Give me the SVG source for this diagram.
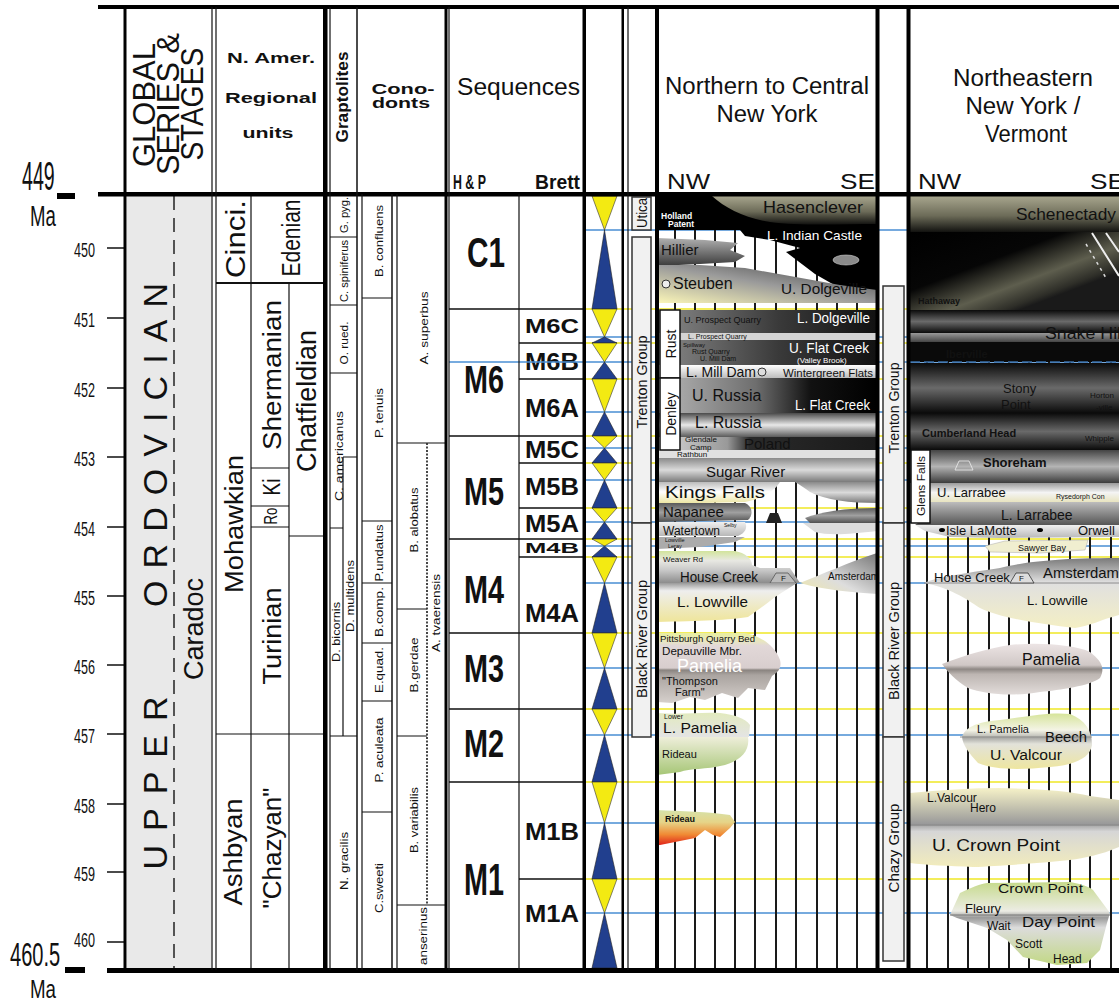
<svg xmlns="http://www.w3.org/2000/svg" width="1119" height="1004" viewBox="0 0 1119 1004">
<style>
text{font-family:"Liberation Sans",Arial,sans-serif;fill:#111}
.b{font-weight:bold}
.k{stroke:#111;fill:none}
.th{stroke:#111;stroke-width:1.2;fill:none}
.bl{stroke:#4a8fd4;stroke-width:1.3}
.yl{stroke:#efe826;stroke-width:1.6}
.vl{stroke:#1a1a1a;stroke-width:2}
.ty{fill:#f3ea12;stroke:#333;stroke-width:.6}
.tb{fill:#213f8e;stroke:#222;stroke-width:.6}
.box{fill:#f1f1f1;stroke:#333;stroke-width:1.5}
.wb{fill:#fff;stroke:#111;stroke-width:1.5}
.sm{font-size:11px}
.wt{fill:#fff}
</style>
<defs>
<linearGradient id="gOl" x1="0" y1="0" x2="0" y2="1"><stop offset="0" stop-color="#a8a68e"/><stop offset=".55" stop-color="#6c6b58"/><stop offset="1" stop-color="#121210"/></linearGradient>
<linearGradient id="gHil" x1="0" y1="0" x2="0" y2="1"><stop offset="0" stop-color="#b0b0b0"/><stop offset="1" stop-color="#3a3a3a"/></linearGradient>
<linearGradient id="gSteu" x1="1" y1="0" x2="0" y2="1"><stop offset="0" stop-color="#3a3a3a"/><stop offset=".5" stop-color="#9a9a9a"/><stop offset="1" stop-color="#fbf6b8"/></linearGradient>
<linearGradient id="gDkH" x1="0" y1="0" x2="1" y2="0"><stop offset="0" stop-color="#8a8a8a"/><stop offset=".55" stop-color="#3a3a3a"/><stop offset="1" stop-color="#111"/></linearGradient>
<linearGradient id="gDk" x1="0" y1="0" x2="0" y2="1"><stop offset="0" stop-color="#0a0a0a"/><stop offset=".5" stop-color="#6a6a6a"/><stop offset="1" stop-color="#0a0a0a"/></linearGradient>
<linearGradient id="gLt" x1="0" y1="0" x2="0" y2="1"><stop offset="0" stop-color="#fff"/><stop offset="1" stop-color="#bdbdbd"/></linearGradient>
<linearGradient id="gE" x1="0" y1="0" x2="1" y2="0"><stop offset="0" stop-color="#b8b8b8"/><stop offset=".45" stop-color="#6e6e6e"/><stop offset=".7" stop-color="#111"/><stop offset="1" stop-color="#000"/></linearGradient>
<linearGradient id="gGr" x1="0" y1="0" x2="0" y2="1"><stop offset="0" stop-color="#4a4a4a"/><stop offset=".5" stop-color="#e8e8e8"/><stop offset="1" stop-color="#5a5a5a"/></linearGradient>
<linearGradient id="gG" x1="0" y1="0" x2="1" y2="0"><stop offset="0" stop-color="#d8d8d8"/><stop offset=".32" stop-color="#999"/><stop offset=".42" stop-color="#2a2a2a"/><stop offset="1" stop-color="#1a1a1a"/></linearGradient>
<linearGradient id="gKF" x1="0" y1="0" x2="0" y2="1"><stop offset="0" stop-color="#bbb"/><stop offset=".45" stop-color="#fff"/><stop offset="1" stop-color="#ebe49c"/></linearGradient>
<linearGradient id="gKR" x1="0" y1="0" x2="0" y2="1"><stop offset="0" stop-color="#8a8a8a"/><stop offset=".5" stop-color="#dadada"/><stop offset="1" stop-color="#7a7a7a"/></linearGradient>
<linearGradient id="gNap" x1="0" y1="0" x2="0" y2="1"><stop offset="0" stop-color="#5a5a5a"/><stop offset=".5" stop-color="#a0a0a0"/><stop offset="1" stop-color="#505050"/></linearGradient>
<linearGradient id="gWat" x1="0" y1="0" x2="0" y2="1"><stop offset="0" stop-color="#f0f0f0"/><stop offset="1" stop-color="#b8b8b8"/></linearGradient>
<linearGradient id="gHC" x1="0" y1="0" x2="0" y2="1"><stop offset="0" stop-color="#d2e49c"/><stop offset=".3" stop-color="#e8e8e2"/><stop offset=".6" stop-color="#c8c8c8"/><stop offset="1" stop-color="#8c8c8c"/></linearGradient>
<linearGradient id="gAm" x1="1" y1="0" x2="0" y2="1"><stop offset="0" stop-color="#777"/><stop offset=".6" stop-color="#ddd"/><stop offset="1" stop-color="#f0e8a8"/></linearGradient>
<linearGradient id="gLow" x1="0" y1="0" x2="0" y2="1"><stop offset="0" stop-color="#9a9a9a"/><stop offset=".2" stop-color="#eee"/><stop offset="1" stop-color="#efe59a"/></linearGradient>
<linearGradient id="gPam" x1="0" y1="0" x2="0" y2="1"><stop offset="0" stop-color="#e9eea0"/><stop offset=".12" stop-color="#e8e6c0"/><stop offset=".18" stop-color="#e2d8d8"/><stop offset=".5" stop-color="#d8cece"/><stop offset=".53" stop-color="#8a8480"/><stop offset=".6" stop-color="#aaa4a0"/><stop offset="1" stop-color="#d6d0cc"/></linearGradient>
<linearGradient id="gLP" x1="0" y1="0" x2="0" y2="1"><stop offset="0" stop-color="#e2eabe"/><stop offset="1" stop-color="#e4e4e4"/></linearGradient>
<linearGradient id="gRid" x1="0" y1="0" x2="0" y2="1"><stop offset="0" stop-color="#eeeeda"/><stop offset="1" stop-color="#a6c676"/></linearGradient>
<linearGradient id="gRid2" x1="0" y1="0" x2="0" y2="1"><stop offset="0" stop-color="#d6e2aa"/><stop offset=".35" stop-color="#e6d488"/><stop offset=".7" stop-color="#f08a34"/><stop offset="1" stop-color="#e0241a"/></linearGradient>
<linearGradient id="gNEL" x1="0" y1="0" x2="0" y2="1"><stop offset="0" stop-color="#7a7a7a"/><stop offset=".35" stop-color="#e0e0e0"/><stop offset="1" stop-color="#f4efc4"/></linearGradient>
<linearGradient id="gPN" x1="0" y1="0" x2="0" y2="1"><stop offset="0" stop-color="#ece4e4"/><stop offset=".42" stop-color="#d0c8c6"/><stop offset=".5" stop-color="#8e8884"/><stop offset=".6" stop-color="#bdb6b2"/><stop offset="1" stop-color="#e2dcda"/></linearGradient>
<linearGradient id="gVal" x1="0" y1="0" x2="0" y2="1"><stop offset="0" stop-color="#d6e49a"/><stop offset=".3" stop-color="#f4f4e6"/><stop offset=".45" stop-color="#aeaeaa"/><stop offset=".55" stop-color="#e2e2da"/><stop offset="1" stop-color="#eee6a0"/></linearGradient>
<linearGradient id="gCP" x1="0" y1="0" x2="0" y2="1"><stop offset="0" stop-color="#f6f2c8"/><stop offset=".45" stop-color="#9a9a9a"/><stop offset=".55" stop-color="#d6d6d6"/><stop offset="1" stop-color="#f2ecbc"/></linearGradient>
<linearGradient id="gDP" x1="0" y1="0" x2="0" y2="1"><stop offset="0" stop-color="#c6da8c"/><stop offset=".35" stop-color="#ecece4"/><stop offset=".43" stop-color="#9a9a9a"/><stop offset=".55" stop-color="#dcdcdc"/><stop offset="1" stop-color="#c2d884"/></linearGradient>
<linearGradient id="gDiag" gradientUnits="userSpaceOnUse" x1="990" y1="200" x2="1030" y2="306"><stop offset="0" stop-color="#000"/><stop offset=".5" stop-color="#060606"/><stop offset=".78" stop-color="#5e5e4e"/><stop offset=".95" stop-color="#2e2e28"/><stop offset="1" stop-color="#1a1a1a"/></linearGradient>
<linearGradient id="gSh" x1="0" y1="0" x2="0" y2="1"><stop offset="0" stop-color="#444"/><stop offset=".5" stop-color="#b4b4b4"/><stop offset="1" stop-color="#3c3c3c"/></linearGradient>
<linearGradient id="gUL" x1="0" y1="0" x2="0" y2="1"><stop offset="0" stop-color="#9a9a9a"/><stop offset=".5" stop-color="#f4f4f4"/><stop offset="1" stop-color="#e8e4c0"/></linearGradient>
<linearGradient id="gLL" x1="0" y1="0" x2="0" y2="1"><stop offset="0" stop-color="#bdbdbd"/><stop offset="1" stop-color="#555"/></linearGradient>
<linearGradient id="gSH" x1="0" y1="0" x2="0" y2="1"><stop offset="0" stop-color="#999"/><stop offset="1" stop-color="#444"/></linearGradient>
</defs>
<rect width="1119" height="1004" fill="#fff"/>

<g id="axis">
<text transform="translate(22,190) scale(.49,1)" font-size="40">449</text>
<text transform="translate(30,226) scale(.62,1)" font-size="30">Ma</text>
<rect x="57" y="193" width="18" height="6" fill="#000"/>
<text transform="translate(10,966) scale(.59,1)" font-size="34">460.5</text>
<text transform="translate(30,998) scale(.72,1)" font-size="26">Ma</text>
<rect x="65" y="967" width="20" height="6" fill="#000"/>
<g font-size="21">
<text transform="translate(74,257) scale(.6,1)">450</text>
<text transform="translate(74,327) scale(.6,1)">451</text>
<text transform="translate(74,397) scale(.6,1)">452</text>
<text transform="translate(74,466) scale(.6,1)">453</text>
<text transform="translate(74,536) scale(.6,1)">454</text>
<text transform="translate(74,605) scale(.6,1)">455</text>
<text transform="translate(74,674) scale(.6,1)">456</text>
<text transform="translate(74,743) scale(.6,1)">457</text>
<text transform="translate(74,813) scale(.6,1)">458</text>
<text transform="translate(74,881) scale(.6,1)">459</text>
<text transform="translate(74,947) scale(.6,1)">460</text>
</g>
<path class="k" stroke-width="1.5" d="M107,248H125M107,318H125M107,388H125M107,457H125M107,527H125M107,596H125M107,665H125M107,734H125M107,804H125M107,872H125M107,942H125"/>
</g>

<g id="global-col">
<rect x="127" y="196" width="84" height="772" fill="#e9e9e9"/>
<line x1="174" y1="196" x2="174" y2="968" stroke="#222" stroke-width="1.5" stroke-dasharray="14,8"/>
<text transform="translate(167,445) rotate(-90)" font-size="34" text-anchor="middle" textLength="324" lengthAdjust="spacing">ORDOVICIAN</text>
<text transform="translate(167,783) rotate(-90)" font-size="34" text-anchor="middle" textLength="173" lengthAdjust="spacing">UPPER</text>
<text transform="translate(203,629) rotate(-90)" font-size="27" text-anchor="middle" textLength="102" lengthAdjust="spacingAndGlyphs">Caradoc</text>
<text transform="translate(155,105) rotate(-90)" font-size="31" text-anchor="middle" textLength="124" lengthAdjust="spacingAndGlyphs">GLOBAL</text>
<text transform="translate(179,104) rotate(-90)" font-size="31" text-anchor="middle" textLength="142" lengthAdjust="spacingAndGlyphs">SERIES &amp;</text>
<text transform="translate(203,104) rotate(-90)" font-size="31" text-anchor="middle" textLength="113" lengthAdjust="spacingAndGlyphs">STAGES</text>
</g>

<g id="namer-col">
<text x="271" y="63" class="b" font-size="14" text-anchor="middle" textLength="88" lengthAdjust="spacingAndGlyphs">N. Amer.</text>
<text x="271" y="103" class="b" font-size="14" text-anchor="middle" textLength="92" lengthAdjust="spacingAndGlyphs">Regional</text>
<text x="268" y="138" class="b" font-size="14" text-anchor="middle" textLength="51" lengthAdjust="spacingAndGlyphs">units</text>
<path class="k" stroke-width="2" d="M216,283H325"/>
<path class="th" d="M251,194V970M289,283V970M216,734H325M251,468H289M251,506H289M251,527H289M289,536H325"/>
<g font-size="26" text-anchor="middle">
<text transform="translate(245,239) rotate(-90)" font-size="28" textLength="78" lengthAdjust="spacingAndGlyphs">Cinci.</text>
<text transform="translate(300,238) rotate(-90)" textLength="77" lengthAdjust="spacingAndGlyphs">Edenian</text>
<text transform="translate(243,524) rotate(-90)" font-size="25" textLength="138" lengthAdjust="spacingAndGlyphs">Mohawkian</text>
<text transform="translate(281,375) rotate(-90)" textLength="150" lengthAdjust="spacingAndGlyphs">Shermanian</text>
<text transform="translate(280,487) rotate(-90)" font-size="23" textLength="17" lengthAdjust="spacingAndGlyphs">Ki</text>
<text transform="translate(277,516) rotate(-90)" font-size="18" textLength="17" lengthAdjust="spacingAndGlyphs">Ro</text>
<text transform="translate(316,401) rotate(-90)" font-size="27" textLength="142" lengthAdjust="spacingAndGlyphs">Chatfieldian</text>
<text transform="translate(281,636) rotate(-90)" textLength="97" lengthAdjust="spacingAndGlyphs">Turinian</text>
<text transform="translate(242,852) rotate(-90)" textLength="107" lengthAdjust="spacingAndGlyphs">Ashbyan</text>
<text transform="translate(281,848) rotate(-90)" textLength="121" lengthAdjust="spacingAndGlyphs">"Chazyan"</text>
</g>
</g>

<g id="graptolites-col">
<text transform="translate(348,97) rotate(-90)" class="b" font-size="17" text-anchor="middle" textLength="91" lengthAdjust="spacingAndGlyphs">Graptolites</text>
<path class="th" d="M330,237H357M330,305H357M330,373H357M343,457H357M330,528H343M343,457V736M330,736H357"/>
<g class="sm" text-anchor="middle">
<text transform="translate(348,215) rotate(-90)" textLength="36" lengthAdjust="spacingAndGlyphs">G. pyg.</text>
<text transform="translate(348,271) rotate(-90)" textLength="62" lengthAdjust="spacingAndGlyphs">C. spiniferus</text>
<text transform="translate(348,343) rotate(-90)" textLength="43" lengthAdjust="spacingAndGlyphs">O. rued.</text>
<text transform="translate(343,456) rotate(-90)" textLength="90" lengthAdjust="spacingAndGlyphs">C. americanus</text>
<text transform="translate(354,596) rotate(-90)" textLength="72" lengthAdjust="spacingAndGlyphs">D. multidens</text>
<text transform="translate(340,632) rotate(-90)" textLength="60" lengthAdjust="spacingAndGlyphs">D. bicornis</text>
<text transform="translate(348,861) rotate(-90)" textLength="58" lengthAdjust="spacingAndGlyphs">N. gracilis</text>
</g>
</g>

<g id="conodonts-col">
<text x="403" y="94" class="b" font-size="14" text-anchor="middle" textLength="63" lengthAdjust="spacingAndGlyphs">Cono-</text>
<text x="401" y="108" class="b" font-size="14" text-anchor="middle" textLength="58" lengthAdjust="spacingAndGlyphs">donts</text>
<path class="th" d="M362,298H392M362,521H392M362,583H392M362,643H392M362,701H392M362,812H392M397,443H446M397,609H427M397,736H427M397,905H446"/>
<line x1="427" y1="443" x2="427" y2="905" stroke="#333" stroke-width="1.8" stroke-dasharray="2,1.5"/>
<g class="sm" text-anchor="middle">
<text transform="translate(383,241) rotate(-90)" textLength="72" lengthAdjust="spacingAndGlyphs">B. confluens</text>
<text transform="translate(383,413) rotate(-90)" textLength="50" lengthAdjust="spacingAndGlyphs">P. tenuis</text>
<text transform="translate(383,553) rotate(-90)" textLength="57" lengthAdjust="spacingAndGlyphs">P.undatus</text>
<text transform="translate(383,612) rotate(-90)" textLength="50" lengthAdjust="spacingAndGlyphs">B.comp.</text>
<text transform="translate(383,670) rotate(-90)" textLength="46" lengthAdjust="spacingAndGlyphs">E.quad.</text>
<text transform="translate(383,750) rotate(-90)" textLength="65" lengthAdjust="spacingAndGlyphs">P. aculeata</text>
<text transform="translate(383,888) rotate(-90)" textLength="50" lengthAdjust="spacingAndGlyphs">C.sweeti</text>
<text transform="translate(428,328) rotate(-90)" textLength="73" lengthAdjust="spacingAndGlyphs">A. superbus</text>
<text transform="translate(418,520) rotate(-90)" textLength="65" lengthAdjust="spacingAndGlyphs">B. alobatus</text>
<text transform="translate(440,613) rotate(-90)" textLength="78" lengthAdjust="spacingAndGlyphs">A. tvaerensis</text>
<text transform="translate(418,665) rotate(-90)" textLength="55" lengthAdjust="spacingAndGlyphs">B.gerdae</text>
<text transform="translate(418,820) rotate(-90)" textLength="66" lengthAdjust="spacingAndGlyphs">B. variabilis</text>
<text transform="translate(427,936) rotate(-90)" textLength="58" lengthAdjust="spacingAndGlyphs">anserinus</text>
</g>
</g>

<g id="sequences-col">
<text x="457" y="95" font-size="24" textLength="123" lengthAdjust="spacingAndGlyphs">Sequences</text>
<text x="453" y="189" class="b" font-size="20" textLength="33" lengthAdjust="spacingAndGlyphs">H &amp; P</text>
<text x="535" y="189" class="b" font-size="21" textLength="45" lengthAdjust="spacingAndGlyphs">Brett</text>
<path class="k" stroke="#2a2a20" stroke-width="1.5" d="M449,309H584M449,436H584M449,539H584M449,633H584M449,709H584M449,782H584M519,343H584M519,379H584M519,463H584M519,508H584M519,557H584M519,879H584"/>
<g class="b" text-anchor="middle">
<text x="486" y="267" font-size="42" textLength="38" lengthAdjust="spacingAndGlyphs">C1</text>
<text x="484" y="393" font-size="39" textLength="40" lengthAdjust="spacingAndGlyphs">M6</text>
<text x="484" y="505" font-size="39" textLength="40" lengthAdjust="spacingAndGlyphs">M5</text>
<text x="484" y="603" font-size="39" textLength="40" lengthAdjust="spacingAndGlyphs">M4</text>
<text x="484" y="682" font-size="39" textLength="40" lengthAdjust="spacingAndGlyphs">M3</text>
<text x="484" y="757" font-size="39" textLength="40" lengthAdjust="spacingAndGlyphs">M2</text>
<text x="484" y="895" font-size="45" textLength="40" lengthAdjust="spacingAndGlyphs">M1</text>
<text x="552" y="333" font-size="21" textLength="54" lengthAdjust="spacingAndGlyphs">M6C</text>
<text x="552" y="370" font-size="24" textLength="54" lengthAdjust="spacingAndGlyphs">M6B</text>
<text x="552" y="417" font-size="26" textLength="54" lengthAdjust="spacingAndGlyphs">M6A</text>
<text x="552" y="458" font-size="24" textLength="54" lengthAdjust="spacingAndGlyphs">M5C</text>
<text x="552" y="495" font-size="24" textLength="54" lengthAdjust="spacingAndGlyphs">M5B</text>
<text x="552" y="532" font-size="24" textLength="54" lengthAdjust="spacingAndGlyphs">M5A</text>
<text x="552" y="553" font-size="15" textLength="54" lengthAdjust="spacingAndGlyphs">M4B</text>
<text x="552" y="622" font-size="25" textLength="54" lengthAdjust="spacingAndGlyphs">M4A</text>
<text x="552" y="840" font-size="24" textLength="54" lengthAdjust="spacingAndGlyphs">M1B</text>
<text x="552" y="922" font-size="24" textLength="54" lengthAdjust="spacingAndGlyphs">M1A</text>
</g>
</g>

<g id="marker-lines">
<line class="bl" x1="449" y1="362" x2="584" y2="362"/>
<path class="bl" d="M585,230H1119M585,337H1119M585,362H1119M585,412H1119M585,448H1119M585,480H1119M585,522H1119M585,546H1119M585,583H1119M585,668H1119M585,735H1119M585,823H1119M585,913H1119"/>
<path class="yl" d="M585,309H1119M585,343H1119M585,379H1119M585,436H1119M585,463H1119M585,508H1119M585,539H1119M585,557H1119M585,633H1119M585,709H1119M585,782H1119M585,879H1119"/>
</g>

<g id="hiatus-lines">
<path class="vl" d="M675,196V970M695,196V970M715,196V970M735,196V970M755,196V970M776,196V970M796,196V970M817,196V970M837,196V970M857,196V970M927,196V970M948,196V970M968,196V970M989,196V970M1009,196V970M1029,196V970M1049,196V970M1070,196V970M1090,196V970M1111,196V970"/>
</g>

<g id="triangles">
<polygon class="ty" points="592,196 617,196 604.5,230"/>
<polygon class="tb" points="604.5,230 617,309 592,309"/>
<polygon class="ty" points="592,309 617,309 604.5,337"/>
<polygon class="tb" points="604.5,337 617,343 592,343"/>
<polygon class="ty" points="592,343 617,343 604.5,362"/>
<polygon class="tb" points="604.5,362 617,379 592,379"/>
<polygon class="ty" points="592,379 617,379 604.5,412"/>
<polygon class="tb" points="604.5,412 617,436 592,436"/>
<polygon class="ty" points="592,436 617,436 604.5,448"/>
<polygon class="tb" points="604.5,448 617,463 592,463"/>
<polygon class="ty" points="592,463 617,463 604.5,480"/>
<polygon class="tb" points="604.5,480 617,508 592,508"/>
<polygon class="ty" points="592,508 617,508 604.5,522"/>
<polygon class="tb" points="604.5,522 617,539 592,539"/>
<polygon class="ty" points="592,539 617,539 604.5,546"/>
<polygon class="tb" points="604.5,546 617,557 592,557"/>
<polygon class="ty" points="592,557 617,557 604.5,583"/>
<polygon class="tb" points="604.5,583 617,633 592,633"/>
<polygon class="ty" points="592,633 617,633 604.5,668"/>
<polygon class="tb" points="604.5,668 617,709 592,709"/>
<polygon class="ty" points="592,709 617,709 604.5,735"/>
<polygon class="tb" points="604.5,735 617,782 592,782"/>
<polygon class="ty" points="592,782 617,782 604.5,823"/>
<polygon class="tb" points="604.5,823 617,879 592,879"/>
<polygon class="ty" points="592,879 617,879 604.5,913"/>
<polygon class="tb" points="604.5,913 617,968 592,968"/>
</g>

<g id="groups-left">
<rect class="box" x="632" y="197" width="19" height="33"/>
<rect class="box" x="632" y="237" width="19" height="286"/>
<rect class="box" x="632" y="523" width="19" height="214"/>
<g font-size="14" text-anchor="middle">
<text transform="translate(647,213) rotate(-90)" textLength="30" lengthAdjust="spacingAndGlyphs">Utica</text>
<text transform="translate(647,382) rotate(-90)" textLength="93" lengthAdjust="spacingAndGlyphs">Trenton Group</text>
<text transform="translate(647,639) rotate(-90)" textLength="118" lengthAdjust="spacingAndGlyphs">Black River Group</text>
</g>
</g>

<g id="groups-right">
<rect class="box" x="883" y="286" width="21" height="237"/>
<rect class="box" x="883" y="523" width="21" height="214"/>
<rect class="box" x="883" y="737" width="21" height="224"/>
<g font-size="14" text-anchor="middle">
<text transform="translate(899,408) rotate(-90)" textLength="91" lengthAdjust="spacingAndGlyphs">Trenton Group</text>
<text transform="translate(899,641) rotate(-90)" textLength="118" lengthAdjust="spacingAndGlyphs">Black River Group</text>
<text transform="translate(899,848) rotate(-90)" textLength="89" lengthAdjust="spacingAndGlyphs">Chazy Group</text>
</g>
</g>

<g id="ny-column">
<text x="767" y="94" font-size="23" text-anchor="middle" textLength="204" lengthAdjust="spacingAndGlyphs">Northern to Central</text>
<text x="767" y="122" font-size="23" text-anchor="middle" textLength="101" lengthAdjust="spacingAndGlyphs">New York</text>
<text x="667" y="189" font-size="22" textLength="43" lengthAdjust="spacingAndGlyphs">NW</text>
<text x="875" y="189" font-size="22" text-anchor="end" textLength="35" lengthAdjust="spacingAndGlyphs">SE</text>
<rect x="657" y="196" width="220" height="34" fill="#000"/>
<path d="M712,196H877V224C840,224 800,226 770,222C745,218 725,208 712,196Z" fill="url(#gOl)"/>
<polygon points="740,230 877,230 877,303 850,294 815,274 786,252 800,248 770,240 745,236" fill="#000"/>
<ellipse cx="846" cy="260" rx="13" ry="5" fill="#8a8a8a" stroke="#ccc" stroke-width=".6"/>
<polygon points="657,238 705,240 738,243 730,250 745,256 735,262 700,264 657,266" fill="url(#gHil)"/>
<polygon points="657,265 700,265 745,268 790,276 840,285 877,290 877,303 657,303" fill="url(#gSteu)"/>
<rect x="657" y="310" width="220" height="23" fill="url(#gDkH)"/>
<rect x="657" y="333" width="220" height="7" fill="#d4d4d4"/>
<rect x="657" y="340" width="220" height="25" fill="url(#gDkH)"/>
<rect x="657" y="365" width="220" height="13" fill="url(#gLt)"/>
<rect x="657" y="378" width="220" height="35" fill="url(#gE)"/>
<rect x="657" y="413" width="220" height="24" fill="url(#gGr)"/>
<rect x="657" y="437" width="220" height="13" fill="url(#gG)"/>
<rect x="657" y="450" width="220" height="8" fill="#e0e0e0"/>
<rect x="657" y="458" width="220" height="24" fill="url(#gKR)"/>
<path d="M657,482H780C775,490 765,498 745,502L657,504Z" fill="url(#gKF)"/>
<path d="M795,482H877V503C850,503 825,500 810,492C805,488 800,485 795,482Z" fill="url(#gKR)"/>
<path d="M657,503H745C752,506 754,514 748,520L657,522Z" fill="url(#gNap)"/>
<polygon points="766,523 770,513 778,513 782,523" fill="#222"/>
<path d="M805,518C820,512 845,508 877,508V523H810Z" fill="url(#gNap)"/>
<path d="M657,522H745C748,528 745,533 738,536H657Z" fill="url(#gWat)"/>
<path d="M803,523H877V531C850,534 830,536 815,532Z" fill="#dcdcdc"/>
<path d="M657,537H745L735,542L700,547L657,549Z" fill="#ababab"/>
<path d="M657,551H735C745,553 752,558 752,565L760,568H790L800,583H657Z" fill="url(#gHC)"/>
<polygon points="770,583 776,573 788,573 796,583" fill="#bbb" stroke="#555" stroke-width=".8"/>
<path d="M800,583C820,575 850,562 877,553V594C850,592 825,590 800,583Z" fill="url(#gAm)"/>
<path d="M657,583H797C790,588 782,592 775,597C765,605 755,612 748,617C730,620 700,621 657,622Z" fill="url(#gLow)"/>
<path d="M657,633H745C760,636 775,645 780,660C782,668 778,672 772,676L765,690L748,688L738,698L722,693L705,700L690,697L672,703L657,702Z" fill="url(#gPam)"/>
<path d="M657,713C680,715 700,712 720,713C735,715 745,718 750,725L749,737H657Z" fill="url(#gLP)"/>
<path d="M657,737H748C750,750 742,760 725,765C705,770 690,768 680,772L657,775Z" fill="url(#gRid)"/>
<path d="M657,810C680,811 710,812 730,815L735,822L730,828L720,837L713,835L705,830L695,838L660,845L657,845Z" fill="url(#gRid2)"/>
<rect class="wb" x="660" y="310" width="20" height="68"/>
<rect class="wb" x="660" y="378" width="20" height="72"/>
<text transform="translate(676,344) rotate(-90)" font-size="14" text-anchor="middle">Rust</text>
<text transform="translate(676,414) rotate(-90)" font-size="14" text-anchor="middle">Denley</text>
<g>
<text x="661" y="219" font-size="8.5" class="wt b">Holland</text>
<text x="668" y="227" font-size="8.5" class="wt b">Patent</text>
<text x="763" y="213" font-size="17" fill="#1a1a1a" textLength="100" lengthAdjust="spacingAndGlyphs">Hasenclever</text>
<text x="767" y="240" font-size="13" class="wt" textLength="95" lengthAdjust="spacingAndGlyphs">L. Indian Castle</text>
<text x="661" y="255" font-size="15">Hillier</text>
<circle cx="666" cy="284" r="4" fill="#eee" stroke="#333"/>
<text x="673" y="289" font-size="16" fill="#1a1a1a">Steuben</text>
<text x="781" y="294" font-size="14" fill="#d8d8d8" textLength="86" lengthAdjust="spacingAndGlyphs">U. Dolgeville</text>
<text x="684" y="323" font-size="9" fill="#c8c8c8">U. Prospect Quarry</text>
<text x="797" y="323" font-size="15" class="wt" textLength="73" lengthAdjust="spacingAndGlyphs">L. Dolgeville</text>
<text x="688" y="339" font-size="7" fill="#888">L. Prospect Quarry</text>
<text x="683" y="347" font-size="6" fill="#ccc">Spillway</text>
<text x="692" y="354" font-size="7" fill="#ccc">Rust Quarry</text>
<text x="700" y="361" font-size="7" fill="#ccc">U. Mill Dam</text>
<text x="789" y="353" font-size="14" class="wt" textLength="80" lengthAdjust="spacingAndGlyphs">U. Flat Creek</text>
<text x="797" y="363" font-size="8" class="wt">(Valley Brook)</text>
<text x="686" y="377" font-size="15" fill="#222" textLength="70" lengthAdjust="spacingAndGlyphs">L. Mill Dam</text>
<circle cx="762" cy="372" r="4" fill="#ddd" stroke="#333"/>
<text x="783" y="377" font-size="10" fill="#444" textLength="90" lengthAdjust="spacingAndGlyphs">Wintergreen Flats</text>
<text x="692" y="401" font-size="16" fill="#222">U. Russia</text>
<text x="795" y="410" font-size="15" class="wt" textLength="75" lengthAdjust="spacingAndGlyphs">L. Flat Creek</text>
<text x="695" y="428" font-size="16" fill="#222">L. Russia</text>
<text x="685" y="442" font-size="8" fill="#333">Glendale</text>
<text x="690" y="450" font-size="8" fill="#333">Camp</text>
<text x="744" y="449" font-size="15" fill="#eee">Poland</text>
<text x="677" y="457" font-size="8" fill="#555">Rathbun</text>
<text x="706" y="477" font-size="15" fill="#222">Sugar River</text>
<text x="665" y="498" font-size="17" fill="#222" textLength="100" lengthAdjust="spacingAndGlyphs">Kings Falls</text>
<text x="663" y="517" font-size="15" fill="#222">Napanee</text>
<text x="724" y="527" font-size="5" fill="#444">Selby</text>
<text x="663" y="535" font-size="12" fill="#333" textLength="57" lengthAdjust="spacingAndGlyphs">Watertown</text>
<text x="665" y="542" font-size="5.5" fill="#eee">Lowville</text>
<text x="668" y="548" font-size="5.5" fill="#eee">Leray</text>
<text x="663" y="562" font-size="8" fill="#555">Weaver Rd</text>
<text x="680" y="582" font-size="14" fill="#222" textLength="78" lengthAdjust="spacingAndGlyphs">House Creek</text>
<text x="781" y="581" font-size="8" fill="#333">F</text>
<text x="828" y="580" font-size="10" fill="#333">Amsterdam</text>
<text x="677" y="607" font-size="15" fill="#222" textLength="71" lengthAdjust="spacingAndGlyphs">L. Lowville</text>
<text x="660" y="642" font-size="9" fill="#8a7a30" textLength="95" lengthAdjust="spacingAndGlyphs">Pittsburgh Quarry Bed</text>
<text x="662" y="655" font-size="11" fill="#333" textLength="80" lengthAdjust="spacingAndGlyphs">Depauville Mbr.</text>
<text x="677" y="672" font-size="18" class="wt" textLength="65" lengthAdjust="spacingAndGlyphs">Pamelia</text>
<text x="662" y="685" font-size="11" fill="#333">"Thompson</text>
<text x="675" y="696" font-size="11" fill="#333">Farm"</text>
<text x="664" y="719" font-size="7" fill="#555">Lower</text>
<text x="663" y="733" font-size="14" fill="#222" textLength="74" lengthAdjust="spacingAndGlyphs">L. Pamelia</text>
<text x="662" y="758" font-size="11" fill="#333">Rideau</text>
<text x="665" y="822" font-size="9" fill="#333" class="b">Rideau</text>
</g>
</g>

<g id="ne-column">
<text x="1023" y="86" font-size="23" text-anchor="middle" textLength="140" lengthAdjust="spacingAndGlyphs">Northeastern</text>
<text x="1023" y="114" font-size="23" text-anchor="middle" textLength="115" lengthAdjust="spacingAndGlyphs">New York /</text>
<text x="1026" y="142" font-size="23" text-anchor="middle" textLength="82" lengthAdjust="spacingAndGlyphs">Vermont</text>
<text x="918" y="189" font-size="22" textLength="43" lengthAdjust="spacingAndGlyphs">NW</text>
<text x="1090" y="189" font-size="22" textLength="35" lengthAdjust="spacingAndGlyphs">SE</text>
<rect x="910" y="196" width="209" height="36" fill="url(#gOl)"/>
<rect x="910" y="232" width="209" height="78" fill="url(#gDiag)"/>
<path d="M1092,233L1119,276M1106,233L1119,252" stroke="#eee" stroke-width="2"/>
<path d="M1086,244L1106,278" stroke="#ddd" stroke-width="1.5" stroke-dasharray="3,4"/>
<rect x="910" y="310" width="209" height="23" fill="url(#gDk)"/>
<rect x="910" y="333" width="209" height="9" fill="url(#gSH)"/>
<rect x="910" y="342" width="209" height="20" fill="#0a0a0a"/>
<line x1="910" y1="362" x2="1119" y2="362" stroke="#3a6fa8" stroke-width="1.5" stroke-dasharray="10,4"/>
<rect x="910" y="363" width="209" height="50" fill="url(#gDk)"/>
<rect x="910" y="413" width="209" height="37" fill="url(#gDk)"/>
<rect x="910" y="450" width="209" height="33" fill="url(#gSh)"/>
<polygon points="930,483 1119,483 1119,502 930,502" fill="url(#gUL)"/>
<polygon points="930,502 1119,502 1119,525 915,525 930,515" fill="url(#gLL)"/>
<polygon points="915,525 1119,525 1119,537 1000,538 950,537 925,531" fill="url(#gWat)"/>
<rect class="wb" x="911" y="450" width="19" height="73"/>
<text transform="translate(925,486) rotate(-90)" font-size="11" text-anchor="middle" textLength="60" lengthAdjust="spacingAndGlyphs">Glens Falls</text>
<polygon points="985,546 1005,541 1088,540 1085,550 1040,553 990,552" fill="#f0eed0" stroke="#aaa" stroke-width=".5"/>
<path d="M924,583C940,576 975,572 1000,568C1020,563 1050,558 1119,558V615C1100,620 1090,626 1075,628C1040,624 1000,618 980,608C965,598 950,588 924,583Z" fill="url(#gNEL)"/>
<line x1="924" y1="583" x2="1119" y2="583" stroke="#777" stroke-width=".8"/>
<path d="M942,664C965,655 990,648 1010,645C1040,642 1075,645 1090,652C1100,660 1106,667 1100,678C1090,686 1060,690 1040,692C1010,697 985,694 968,688C955,680 948,672 942,664Z" fill="url(#gPN)"/>
<path d="M962,737C965,728 975,722 1000,720C1030,716 1050,712 1070,714C1085,720 1092,730 1092,745C1090,758 1075,765 1050,767C1020,770 995,770 978,763C968,752 963,745 962,737Z" fill="url(#gVal)"/>
<line x1="960" y1="737" x2="1092" y2="737" stroke="#777" stroke-width=".8"/>
<path d="M910,793C940,790 970,788 1000,788C1040,789 1070,791 1090,796L1119,800V847C1100,855 1085,858 1070,860C1040,863 1000,866 973,867C950,866 925,865 910,863Z" fill="url(#gCP)"/>
<line x1="910" y1="825" x2="1119" y2="825" stroke="#777" stroke-width=".8"/>
<path d="M950,915L960,893C970,888 980,884 987,883L1070,882C1080,884 1088,886 1093,890L1110,913L1107,923L1100,950L1087,963L1057,965L1023,957L1007,940L987,928L957,918Z" fill="url(#gDP)"/>
<line x1="950" y1="915" x2="1110" y2="915" stroke="#666" stroke-width=".8"/>
<g>
<text x="1016" y="220" font-size="17" fill="#e0e0d8" textLength="100" lengthAdjust="spacingAndGlyphs">Schenectady</text>
<text x="918" y="304" font-size="9" fill="#ddd" class="b">Hathaway</text>
<text x="1045" y="339" font-size="16" fill="#eee" textLength="80" lengthAdjust="spacingAndGlyphs">Snake Hill</text>
<text x="946" y="358" font-size="11" fill="#ddd" class="b">Iberville</text>
<text x="1003" y="393" font-size="13" fill="#ddd">Stony</text>
<text x="1001" y="409" font-size="13" fill="#ddd">Point</text>
<text x="1090" y="398" font-size="8" fill="#ddd">Horton</text>
<text x="1096" y="410" font-size="8" fill="#ddd">-ville</text>
<text x="922" y="437" font-size="11" fill="#bbb" class="b">Cumberland Head</text>
<text x="1085" y="441" font-size="8" fill="#ccc">Whipple</text>
<polygon points="955,470 959,461 969,461 973,470" fill="none" stroke="#eee" stroke-width=".8"/>
<text x="983" y="467" font-size="13" fill="#eee" class="b">Shoreham</text>
<text x="937" y="497" font-size="13" fill="#222">U. Larrabee</text>
<text x="1056" y="499" font-size="7" fill="#777">Rysedorph Con</text>
<text x="1001" y="520" font-size="14" fill="#222">L. Larrabee</text>
<ellipse cx="942" cy="530" rx="3" ry="2" fill="#000"/>
<ellipse cx="1040" cy="530" rx="3" ry="2" fill="#000"/>
<text x="946" y="535" font-size="13" fill="#222">Isle LaMotte</text>
<text x="1078" y="535" font-size="13" fill="#222">Orwell</text>
<text x="1018" y="551" font-size="9" fill="#666">Sawyer Bay</text>
<text x="934" y="582" font-size="13" fill="#333">House Creek</text>
<polygon points="1010,583 1016,573 1028,573 1034,583" fill="#ddd" stroke="#333" stroke-width=".8"/>
<text x="1019" y="581" font-size="8" fill="#333">F</text>
<text x="1043" y="578" font-size="15" fill="#222" textLength="76" lengthAdjust="spacingAndGlyphs">Amsterdam</text>
<text x="1027" y="605" font-size="13" fill="#333">L. Lowville</text>
<text x="1022" y="665" font-size="16" fill="#333">Pamelia</text>
<text x="977" y="733" font-size="11" fill="#333">L. Pamelia</text>
<text x="1045" y="742" font-size="14" fill="#333" textLength="42" lengthAdjust="spacingAndGlyphs">Beech</text>
<text x="990" y="760" font-size="14" fill="#333" textLength="72" lengthAdjust="spacingAndGlyphs">U. Valcour</text>
<text x="927" y="802" font-size="12" fill="#333">L.Valcour</text>
<text x="970" y="812" font-size="12" fill="#333">Hero</text>
<text x="932" y="851" font-size="17" fill="#222" textLength="128" lengthAdjust="spacingAndGlyphs">U. Crown Point</text>
<text x="998" y="893" font-size="12" fill="#333" textLength="85" lengthAdjust="spacingAndGlyphs">Crown Point</text>
<text x="965" y="913" font-size="13" fill="#333">Fleury</text>
<text x="987" y="930" font-size="12" fill="#333">Wait</text>
<text x="1022" y="927" font-size="15" fill="#222" textLength="73" lengthAdjust="spacingAndGlyphs">Day Point</text>
<text x="1015" y="948" font-size="12" fill="#333">Scott</text>
<text x="1053" y="963" font-size="12" fill="#333">Head</text>
</g>
</g>

<g id="frame">
<rect x="98" y="5" width="1021" height="4" fill="#000"/>
<rect x="98" y="192" width="1021" height="4.5" fill="#000"/>
<rect x="107" y="968" width="1012" height="5" fill="#000"/>
<rect x="123.5" y="7" width="3" height="963" fill="#000"/>
<path class="th" d="M212,7V970M216,7V970M330,7V970M362,194V970M397,194V970M449,7V970M519,194V970M628,7V970"/>
<path class="k" stroke-width="1.5" d="M357,7V970M392,194V970"/>
<rect x="323" y="7" width="4.5" height="963" fill="#000"/>
<rect x="444.5" y="7" width="3" height="963" fill="#000"/>
<rect x="582.5" y="7" width="3.5" height="963" fill="#000"/>
<rect x="621.5" y="7" width="2.5" height="963" fill="#000"/>
<rect x="655" y="7" width="4" height="963" fill="#000"/>
<rect x="875.5" y="7" width="4" height="963" fill="#000"/>
<rect x="906.5" y="7" width="4" height="963" fill="#000"/>
</g>
</svg>
